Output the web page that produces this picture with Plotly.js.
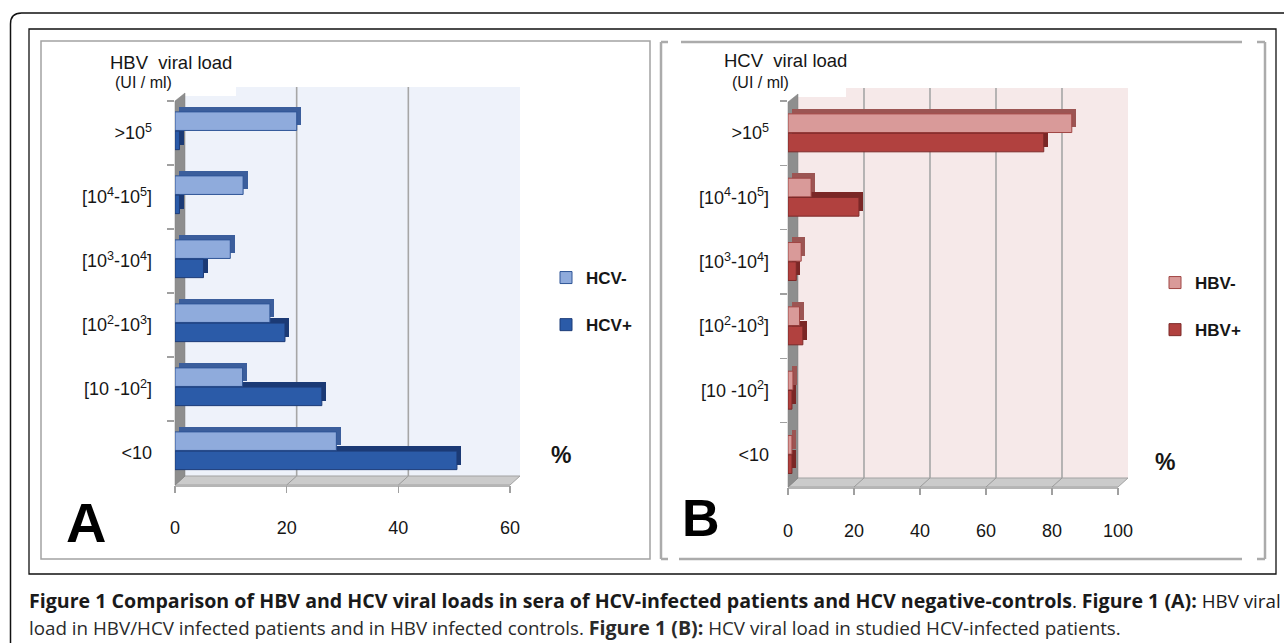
<!DOCTYPE html>
<html>
<head>
<meta charset="utf-8">
<script src="https://cdn.plot.ly/plotly-3.0.1.min.js"></script>
<style>html,body{margin:0;padding:0;background:#fff;}#chart{width:1284px;height:643px;}</style>
</head>
<body>
<div id="chart"></div>
<script>
// ---------------- data ----------------
const loadCategories = ['&gt;10<sup>5</sup>', '[10<sup>4</sup>-10<sup>5</sup>]', '[10<sup>3</sup>-10<sup>4</sup>]', '[10<sup>2</sup>-10<sup>3</sup>]', '[10 -10<sup>2</sup>]', '&lt;10'];
// Panel A: HBV viral load (%)
const hcvNegative = [21.8, 12.2, 9.9, 17.0, 12.1, 28.9];
const hcvPositive = [0.8, 0.8, 5.1, 19.7, 26.3, 50.5];
// Panel B: HCV viral load (%)
const hbvNegative = [86, 7, 4, 3.5, 1.5, 1.2];
const hbvPositive = [77.5, 21.5, 2.5, 4.5, 1.2, 1.2];
const xTicksA = [0, 20, 40, 60];
const xTicksB = [0, 20, 40, 60, 80, 100];

// ---------------- helpers ----------------
const W = 1284, H = 643;
const px = x => x / W;
const py = y => 1 - y / H;
const SANS = "'Liberation Sans', Arial, sans-serif";
const CAP = "'Open Sans', 'Noto Sans', sans-serif";

function rectPx(x0, y0, x1, y1, fill, line, lw, layer) {
  return {type: 'rect', xref: 'paper', yref: 'paper', x0: px(x0), x1: px(x1), y0: py(y1), y1: py(y0),
    fillcolor: fill || 'rgba(0,0,0,0)', line: {color: line || 'rgba(0,0,0,0)', width: lw || 0}, layer: layer || 'below'};
}
function polyPx(pts, fill, line, lw) {
  const d = pts.map((p, i) => (i ? 'L' : 'M') + px(p[0]) + ',' + py(p[1])).join(' ') + ' Z';
  return {type: 'path', xref: 'paper', yref: 'paper', path: d, fillcolor: fill,
    line: {color: line || 'rgba(0,0,0,0)', width: lw || 0}, layer: 'below'};
}
function linePx(x0, y0, x1, y1, color, w, layer) {
  return {type: 'line', xref: 'paper', yref: 'paper', x0: px(x0), x1: px(x1), y0: py(y0), y1: py(y1),
    line: {color: color, width: w}, layer: layer || 'below'};
}

// 3-D look: a darker "depth" bar sits behind each bar, shifted up/right
const BAR_W = 0.29, DY = 0.08;
function barSeries(vals, name, fill, edge, depthColor, off, depthX, xa, ya, legend) {
  const depth = {type: 'bar', orientation: 'h', y: loadCategories, x: vals, base: depthX,
    offset: off - DY, width: BAR_W, marker: {color: depthColor, line: {width: 0}},
    showlegend: false, hoverinfo: 'skip', xaxis: xa, yaxis: ya};
  const main = {type: 'bar', orientation: 'h', y: loadCategories, x: vals, name: name,
    offset: off, width: BAR_W, marker: {color: fill, line: {color: edge, width: 1}},
    legend: legend, legendgroup: name, xaxis: xa, yaxis: ya};
  return [depth, main];
}

const [aNegD, aNeg] = barSeries(hcvNegative, 'HCV-', '#8fabdc', '#2f5597', '#3b5e9c', -0.33, 0.8, 'x', 'y', 'legend');
const [aPosD, aPos] = barSeries(hcvPositive, 'HCV+', '#2b5ba8', '#1d3c78', '#1b3a75', -0.03, 0.8, 'x', 'y', 'legend');
const [bNegD, bNeg] = barSeries(hbvNegative, 'HBV-', '#d99a99', '#a04644', '#9c5553', -0.30, 1.2, 'x2', 'y2', 'legend2');
const [bPosD, bPos] = barSeries(hbvPositive, 'HBV+', '#b1413f', '#7d2a29', '#7a2726', 0.0, 1.2, 'x2', 'y2', 'legend2');
const data = [aNegD, aPosD, aNeg, aPos, bNegD, bPosD, bNeg, bPos];

// ---------------- decorations ----------------
const shapes = [];
// outer frame with rounded corner
shapes.push({type: 'path', xref: 'paper', yref: 'paper', layer: 'above',
  path: `M${px(10.5)},${py(700)} L${px(10.5)},${py(24)} Q${px(10.5)},${py(13)} ${px(21.5)},${py(13)} L${px(1320)},${py(13)}`,
  line: {color: '#111', width: 1.5}});
shapes.push(rectPx(29, 29, 1276, 574, null, '#111', 1.3, 'above'));
// panel A box
shapes.push(rectPx(41, 41, 650, 559, null, '#a3a3a3', 1.5));
// panel B brackets
const BR = '#ababab';
shapes.push(linePx(681, 42, 1242, 42, BR, 2.5));
shapes.push(linePx(679, 559, 1242, 559, BR, 2.5));
shapes.push(linePx(661, 42, 661, 559, BR, 2.5));
shapes.push(linePx(661, 42, 668, 42, BR, 2.5));
shapes.push(linePx(661, 559, 668, 559, BR, 2.5));
shapes.push(linePx(1265, 42, 1265, 559, BR, 2.5));
shapes.push(linePx(1257, 42, 1265, 42, BR, 2.5));
shapes.push(linePx(1257, 559, 1265, 559, BR, 2.5));

function box3d(xa, ticks, fx0, fx1, yTop, yFront, wall, titleEnd) {
  const d = 10, dy = 9;
  // back wall
  shapes.push(rectPx(fx0 + d, yTop, fx1 + d, yFront - dy, wall));
  shapes.push(rectPx(fx0 + d - 2, yTop - 8, titleEnd, yTop + 9, '#ffffff'));
  // grid lines on the back wall
  ticks.forEach(v => {
    if (v > 0) {
      shapes.push({type: 'line', xref: xa, xsizemode: 'pixel', xanchor: v, x0: d, x1: d, yref: 'paper',
        y0: py(yFront - dy), y1: py(yTop), line: {color: '#a6a6a6', width: 1.6}, layer: 'below'});
    }
  });
  // floor
  shapes.push(polyPx([[fx0, yFront], [fx1, yFront], [fx1 + d, yFront - dy], [fx0 + d, yFront - dy]], '#cbcbcb', '#a3a3a3', 1));
  shapes.push(polyPx([[fx0, yFront], [fx1, yFront], [fx1, yFront + 2], [fx0, yFront + 2]], '#b5b5b5'));
  ticks.forEach(v => {
    shapes.push({type: 'line', xref: xa, xsizemode: 'pixel', xanchor: v, x0: 0, x1: d, yref: 'paper',
      y0: py(yFront), y1: py(yFront - dy), line: {color: '#9a9a9a', width: 1}, layer: 'below'});
  });
  // left wall
  shapes.push(polyPx([[fx0, yTop + 14], [fx0 + d, yTop + 6], [fx0 + d, yFront - dy], [fx0, yFront]], '#8e8e8e', '#7d7d7d', 0.5));
}
box3d('x', xTicksA, 175, 510, 87, 485, '#eef2fa', 236);
box3d('x2', xTicksB, 788, 1118, 88, 487, '#f6e9e9', 846);

// ---------------- annotations ----------------
function note(text, x, y, size, opts) {
  return Object.assign({xref: 'paper', yref: 'paper', x: px(x), y: py(y), text: text, showarrow: false,
    xanchor: 'left', yanchor: 'middle', borderpad: 0, font: {family: SANS, size: size, color: '#161616'}}, opts || {});
}
const B1 = '<b style="font-size:19.6px">';
const annotations = [
  note('HBV&nbsp; viral load', 109, 63, 18.5),
  note('(UI / ml)', 114, 83, 16),
  note('HCV&nbsp; viral load', 723, 60, 18.5),
  note('(UI / ml)', 731, 83, 16),
  note('<b>%</b>', 561, 455, 23, {xanchor: 'center'}),
  note('<b>%</b>', 1165, 462, 23, {xanchor: 'center'}),
  note('<b>A</b>', 86, 522, 56, {xanchor: 'center', font: {family: SANS, size: 56, color: '#000'}}),
  note('<b>B</b>', 701, 518, 52, {xanchor: 'center', font: {family: SANS, size: 52, color: '#000'}}),
  note(B1 + 'Figure 1 Comparison of HBV and HCV viral loads in sera of HCV-infected patients and HCV negative-controls</b>. ' + B1 + 'Figure 1 (A):</b> HBV viral',
    28, 600, 18.8, {font: {family: CAP, size: 18.8, color: '#1a1a1a'}}),
  note('load in HBV/HCV infected patients and in HBV infected controls. ' + B1 + 'Figure 1 (B):</b> HCV viral load in studied HCV-infected patients.',
    28, 627, 18.8, {font: {family: CAP, size: 18.8, color: '#2a2a2a'}})
];

// ---------------- axes ----------------
const tickFontX = {family: SANS, size: 18, color: '#161616'};
const tickFontY = {family: SANS, size: 18, color: '#161616'};
function xAxis(domain, range, ticks, anchor, standoff) {
  return {domain: domain, range: range, anchor: anchor, tickmode: 'array', tickvals: ticks,
    ticks: 'outside', ticklen: 7, tickcolor: '#a0a0a0', tickwidth: 1.2, showgrid: false, zeroline: false,
    showline: false, tickfont: tickFontX, ticklabelstandoff: standoff, fixedrange: true};
}
function yAxis(domain, anchor, standoff) {
  return {domain: domain, anchor: anchor, type: 'category', categoryorder: 'array', categoryarray: loadCategories,
    range: [5.5, -0.5], ticks: 'outside', tickson: 'boundaries', ticklen: 7, tickcolor: '#a0a0a0', tickwidth: 1.2,
    showgrid: false, zeroline: false, showline: false, tickfont: tickFontY, ticklabelstandoff: standoff, fixedrange: true};
}

const legendBase = {xanchor: 'left', yanchor: 'top', bgcolor: 'rgba(0,0,0,0)', traceorder: 'grouped',
  tracegroupgap: 22, itemwidth: 30, font: {family: SANS, size: 17, color: '#161616', weight: 'bold'}};

const layout = {
  width: W, height: H,
  margin: {l: 0, r: 0, t: 0, b: 0},
  paper_bgcolor: '#ffffff', plot_bgcolor: 'rgba(0,0,0,0)',
  barmode: 'overlay', bargap: 0,
  showlegend: true,
  xaxis: xAxis([px(175), px(510)], [0, 60], xTicksA, 'y', 19),
  yaxis: yAxis([py(485), py(101)], 'x', 22),
  xaxis2: xAxis([px(788), px(1118)], [0, 100], xTicksB, 'y2', 20),
  yaxis2: yAxis([py(487), py(101)], 'x2', 18),
  legend: Object.assign({x: px(546), y: py(260)}, legendBase),
  legend2: Object.assign({x: px(1155), y: py(265)}, legendBase),
  shapes: shapes,
  annotations: annotations
};

Plotly.newPlot('chart', data, layout, {staticPlot: true, displayModeBar: false});
</script>
</body>
</html>
